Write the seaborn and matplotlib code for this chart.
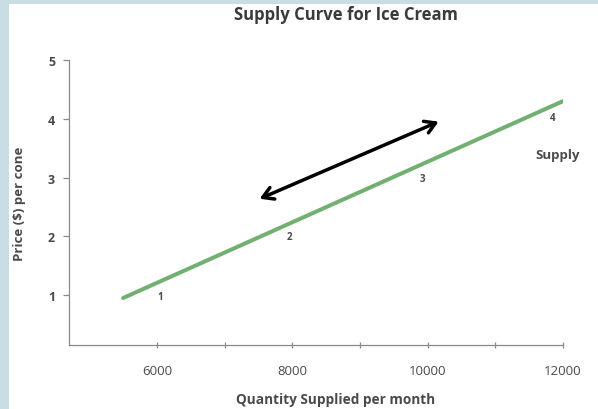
import matplotlib
matplotlib.use("Agg")
import matplotlib.pyplot as plt
import seaborn as sns
import pandas as pd
from matplotlib.patches import Rectangle

# supply curve end points
quantity = [5500, 12000]
price = [0.95, 4.3]

# numbered points along the curve
point_labels = ["1", "2", "3", "4"]
point_q = [6050, 7950, 9930, 11840]
point_p = [0.97, 2.0, 2.98, 4.02]

# movement along the curve (double arrow)
arrow_start = (7480, 2.62)
arrow_end = (10200, 3.97)

x_ticks = [6000, 8000, 10000, 12000]
x_minor = [7000, 9000, 11000]
y_ticks = [1, 2, 3, 4, 5]

sns.set_style("white")
plt.rcParams['font.family'] = ['Open Sans', 'DejaVu Sans']

fig = plt.figure(figsize=(5.98, 4.10), dpi=100)
fig.patch.set_facecolor("#c9dde5")
fig.patches.append(Rectangle((9 / 598, 0), 1, 1 - 5 / 410, transform=fig.transFigure,
                             facecolor="white", edgecolor="none", zorder=-10))

ax = fig.add_axes([69 / 598, 1 - 346 / 410, (563 - 69) / 598, (346 - 61) / 410])
ax.set_facecolor("none")

df = pd.DataFrame({"q": quantity, "p": price})
sns.lineplot(data=df, x="q", y="p", ax=ax, color="#72b072", linewidth=2.9)

txt = "#4a4a4a"
for lab, q, p in zip(point_labels, point_q, point_p):
    ax.text(q, p, lab, fontsize=7, fontweight="bold", color=txt, ha="center", va="center")
ax.text(11925, 3.39, "Supply", fontsize=9.5, fontweight="bold", color=txt, ha="center", va="center")

ax.annotate("", xy=arrow_end, xytext=arrow_start,
            arrowprops=dict(arrowstyle="<->,head_length=0.75,head_width=0.45",
                            color="black", lw=2.5))

ax.set_xlim(4700, 12000)
ax.set_ylim(0.15, 5.0)
ax.set_xticks(x_ticks)
ax.set_xticks(x_minor, minor=True)
ax.set_yticks(y_ticks)
ax.set_xticklabels([str(t) for t in x_ticks], fontsize=9.5, color=txt)
ax.set_yticklabels([str(t) for t in y_ticks], fontsize=9, color=txt, fontweight="bold")

for s in ["top", "right"]:
    ax.spines[s].set_visible(False)
for s in ["left", "bottom"]:
    ax.spines[s].set_color("#8a8a8a")
    ax.spines[s].set_linewidth(0.9)
ax.tick_params(axis="y", direction="out", length=4, width=0.9, color="#8a8a8a", pad=6, left=True)
ax.tick_params(axis="x", which="both", direction="inout", length=5, width=0.9, color="#8a8a8a", pad=11, bottom=True)

ax.set_xlabel("Quantity Supplied per month", fontsize=9.8, fontweight="bold", color=txt, labelpad=11)
ax.xaxis.label.set_x((336 - 69) / 494)
ax.set_ylabel("Price ($) per cone", fontsize=9.5, fontweight="bold", color=txt, labelpad=16)
fig.text(346 / 598, 1 - 15 / 410, "Supply Curve for Ice Cream", fontsize=12, fontweight="bold",
         color="#3a3a3a", ha="center", va="center")

plt.savefig("out.png", dpi=100)
